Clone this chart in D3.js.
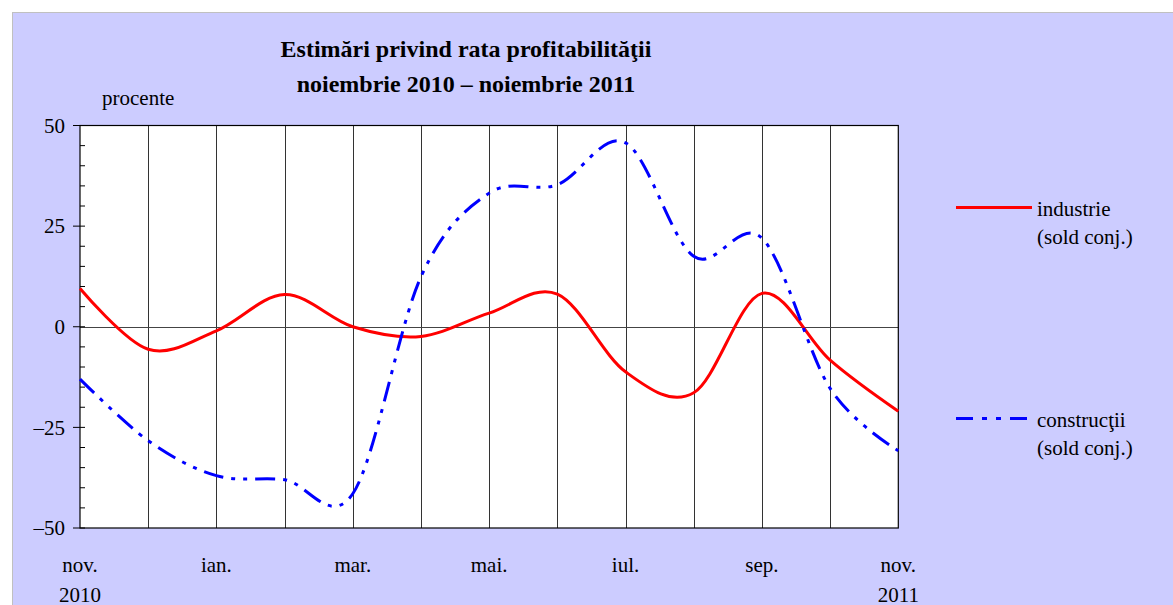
<!DOCTYPE html>
<html>
<head>
<meta charset="utf-8">
<script src="https://cdn.jsdelivr.net/npm/d3@7"></script>
<style>
html,body{margin:0;padding:0;background:#fff;}
svg{display:block;}
text{font-family:"Liberation Serif","Times New Roman",serif;fill:#000;}
</style>
</head>
<body>
<svg id="chart" width="1173" height="605"></svg>
<script>
// Data
const months = ["nov. 2010","dec. 2010","ian. 2011","feb. 2011","mar. 2011","apr. 2011","mai. 2011","iun. 2011","iul. 2011","aug. 2011","sep. 2011","oct. 2011","nov. 2011"];
const industrie = [9.5, -5.6, -1, 8, 0, -2.4, 3.4, 8.1, -11.2, -16.4, 8.3, -8.3, -21];
const constructii = [-13, -28.3, -37, -38, -41.5, 12.4, 33.2, 35.3, 45.7, 17.5, 22, -15.3, -30.8];
const yTicks = [50, 25, 0, -25, -50];
const xLabels = [
  {i:0, l1:"nov.", l2:"2010"},
  {i:2, l1:"ian.", l2:""},
  {i:4, l1:"mar.", l2:""},
  {i:6, l1:"mai.", l2:""},
  {i:8, l1:"iul.", l2:""},
  {i:10, l1:"sep.", l2:""},
  {i:12, l1:"nov.", l2:"2011"}
];
const titleLines = ["Estimări privind rata profitabilităţii", "noiembrie 2010 – noiembrie 2011"];
const unitLabel = "procente";
const seriesNames = [["industrie","(sold conj.)"],["construcţii","(sold conj.)"]];

const svg = d3.select("#chart");
// background frame
svg.append("rect").attr("x",12.5).attr("y",12.5).attr("width",1200).attr("height",700)
  .attr("fill","#ccccff").attr("stroke","#c0c0c0").attr("stroke-width",1);

const L=80, R=898.3, T=125.5, B=528;
const x = d3.scaleLinear().domain([0, months.length-1]).range([L, R]);
const y = d3.scaleLinear().domain([-50, 50]).range([B, T]);

// plot area
svg.append("rect").attr("x",L).attr("y",T).attr("width",R-L).attr("height",B-T).attr("fill","#fff");

// vertical grid lines
svg.append("g").selectAll("line").data(d3.range(1, months.length-1)).join("line")
  .attr("x1",d=>Math.round(x(d))+0.5).attr("x2",d=>Math.round(x(d))+0.5)
  .attr("y1",T).attr("y2",B).attr("stroke","#333").attr("stroke-width",1);

// zero line
svg.append("line").attr("x1",L).attr("x2",R).attr("y1",Math.round(y(0))+0.5).attr("y2",Math.round(y(0))+0.5)
  .attr("stroke","#444").attr("stroke-width",1);

// plot border
svg.append("rect").attr("x",L).attr("y",T).attr("width",R-L).attr("height",B-T)
  .attr("fill","none").attr("stroke","#000").attr("stroke-width",1.2);

// minor ticks
svg.append("g").selectAll("line").data(d3.range(-50, 51, 5)).join("line")
  .attr("x1",d=> (d%25===0)? L-7 : L).attr("x2",L+5)
  .attr("y1",d=>y(d)).attr("y2",d=>y(d)).attr("stroke","#000").attr("stroke-width",1);

// y axis labels
svg.append("g").selectAll("text").data(yTicks).join("text")
  .attr("x",65).attr("y",d=>y(d)).attr("dy","0.35em").attr("text-anchor","end")
  .attr("font-size",21).text(d=> d<0 ? "–"+Math.abs(d) : d);

// x labels
const xl = svg.append("g").selectAll("g").data(xLabels).join("g");
xl.append("text").attr("x",d=>x(d.i)).attr("y",571.5).attr("text-anchor","middle").attr("font-size",21).text(d=>d.l1);
xl.append("text").attr("x",d=>x(d.i)).attr("y",601.5).attr("text-anchor","middle").attr("font-size",21).text(d=>d.l2);

// title
svg.append("g").selectAll("text").data(titleLines).join("text")
  .attr("x",466).attr("y",(d,i)=>57+i*35).attr("text-anchor","middle")
  .attr("font-size",24).attr("font-weight","bold").text(d=>d);

svg.append("text").attr("x",102).attr("y",105).attr("font-size",21).text(unitLabel);

// lines
const line = d3.line().x((d,i)=>x(i)).y(d=>y(d)).curve(d3.curveCardinal.tension(0));
const dash = "20,8,4,8,4,8";
svg.append("path").datum(industrie).attr("d",line).attr("fill","none")
  .attr("stroke","#ff0000").attr("stroke-width",3);
svg.append("path").datum(constructii).attr("d",line).attr("fill","none")
  .attr("stroke","#0000ff").attr("stroke-width",3).attr("stroke-dasharray",dash);

// legend
const leg = [
  {y:207.5, color:"#ff0000", dash:null, names:seriesNames[0], ty:215.5},
  {y:418.5, color:"#0000ff", dash:"17,9,5,9,5,9", names:seriesNames[1], ty:426.5}
];
leg.forEach(d=>{
  svg.append("line").attr("x1",956).attr("x2",1032).attr("y1",d.y).attr("y2",d.y)
    .attr("stroke",d.color).attr("stroke-width",3).attr("stroke-dasharray",d.dash);
  svg.append("text").attr("x",1037).attr("y",d.ty).attr("font-size",21).text(d.names[0]);
  svg.append("text").attr("x",1037).attr("y",d.ty+28.5).attr("font-size",21).text(d.names[1]);
});
</script>
</body>
</html>
